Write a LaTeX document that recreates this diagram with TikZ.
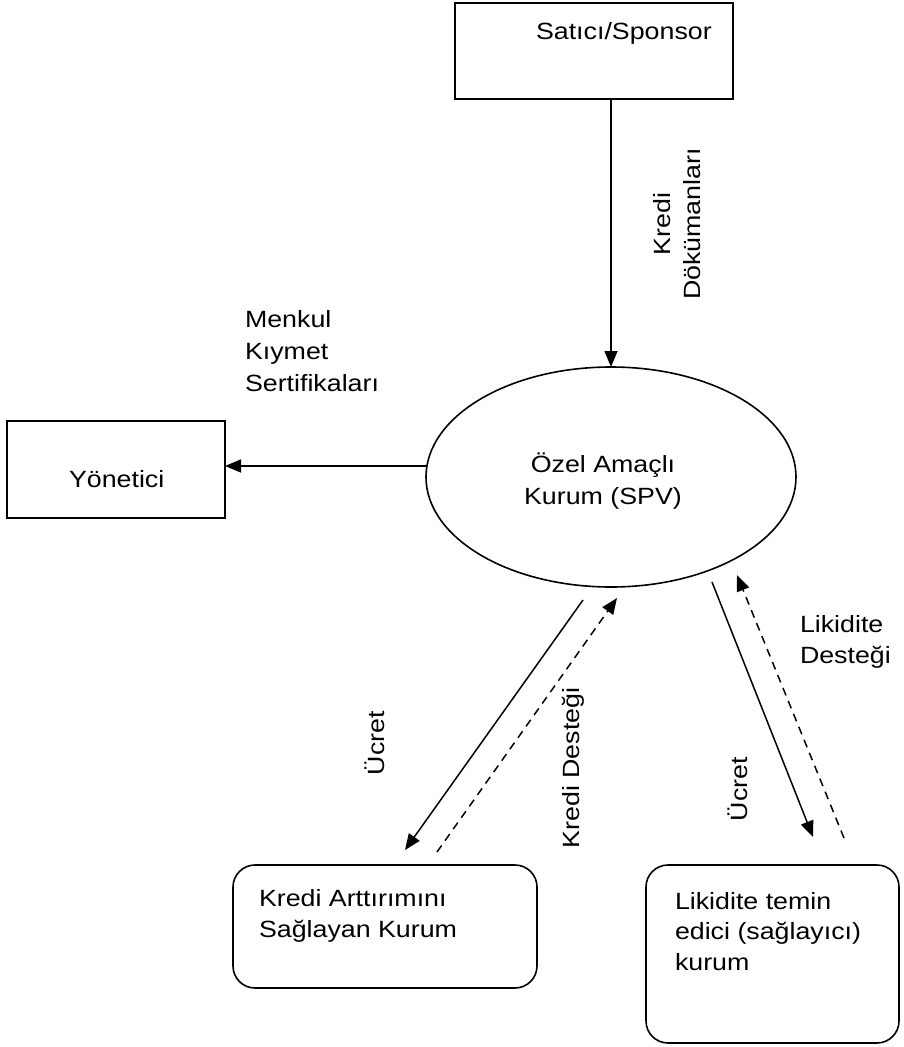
\documentclass[tikz,border=0pt]{standalone}
\usepackage{fontspec}
\setmainfont{Liberation Sans}[FakeStretch=1.14]
\usetikzlibrary{arrows.meta,shapes.geometric}
\begin{document}
\begin{tikzpicture}[x=1pt,y=-1pt,
  every node/.style={inner sep=0pt,outer sep=0pt},
  txt/.style={font=\fontsize{23.5}{30.5}\selectfont},
  wtxt/.style={font=\fontsize{23.5}{32}\selectfont},
  sqbox/.style={draw,line width=1.6pt,rectangle},
  rbox/.style={draw,line width=1.6pt,rectangle,rounded corners=22pt},
  arr/.style={line width=1.5pt,-{Triangle[length=16pt,width=13pt]}},
  darr/.style={arr,dash pattern=on 8pt off 6pt}]
\useasboundingbox (0,0) rectangle (903,1047);
% boxes
\node[sqbox,minimum width=278,minimum height=96] (sat) at (594,51) {};
\node[txt,anchor=base west] (satt) at (536,39) {Satıcı/Sponsor};
\node[sqbox,minimum width=218,minimum height=97] (yon) at (116,469.5) {};
\node[txt,anchor=base west] (yont) at (69,487) {Yönetici};
\node[draw,line width=1.6pt,ellipse,minimum width=370,minimum height=220] (spv) at (611,477) {};
\node[wtxt,align=center,anchor=base] (spvt) at (603,504) {Özel Amaçlı\\Kurum (SPV)};
\node[rbox,minimum width=304,minimum height=123] (kak) at (385,926.5) {};
\node[txt,align=left,anchor=base west] (kakt) at (259,937) {Kredi Arttırımını\\Sağlayan Kurum};
\node[rbox,minimum width=253,minimum height=178] (lik) at (772.5,954) {};
\node[txt,align=left,anchor=base west] (likt) at (675,970) {Likidite temin\\edici (sağlayıcı)\\kurum};
% connectors
\draw[arr] (spv.north |- sat.south) -- (spv.north);
\coordinate (ym) at (426.5,466);
\draw[arr] (ym) -- (ym -| yon.east);
\coordinate (u1s) at (583,600);
\coordinate (u1e) at (405,850);
\coordinate (k1s) at (437,852);
\coordinate (k1e) at (617,598);
\coordinate (u2s) at (712,582);
\coordinate (u2e) at (813,837);
\coordinate (l2s) at (844,838);
\coordinate (l2e) at (737,575);
\draw[arr] (u1s) -- (u1e);
\draw[darr] (k1s) -- (k1e);
\draw[arr] (u2s) -- (u2e);
\draw[darr] (l2s) -- (l2e);
% labels
\node[txt,rotate=90,align=center] (kd) at (677,224) {Kredi\\Dökümanları};
\node[wtxt,align=left,anchor=base west] (mks) at (245,391) {Menkul\\Kıymet\\Sertifikaları};
\node[txt,rotate=90] (uc1) at (375,743) {Ücret};
\node[txt,rotate=90] (kds) at (573,768) {Kredi Desteği};
\node[txt,rotate=90] (uc2) at (738,789) {Ücret};
\node[txt,align=left,anchor=base west] (lds) at (800,663) {Likidite\\Desteği};
\end{tikzpicture}
\end{document}
